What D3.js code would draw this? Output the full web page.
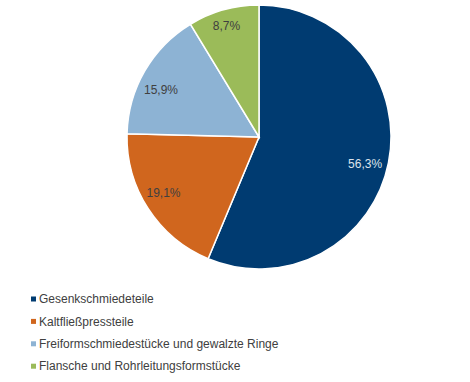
<!DOCTYPE html>
<html>
<head>
<meta charset="utf-8">
<script src="https://cdn.jsdelivr.net/npm/d3@7"></script>
<style>
  html, body { margin: 0; padding: 0; background: #fff; }
  svg { display: block; font-family: "Liberation Sans", Arial, sans-serif; }
</style>
</head>
<body>
<div id="container"></div>
<script>
// data
const categories = [
    'Gesenkschmiedeteile',
    'Kaltfließpressteile',
    'Freiformschmiedestücke und gewalzte Ringe',
    'Flansche und Rohrleitungsformstücke'
]
const shares = [56.3, 19.1, 15.9, 8.7]
const colors = ['#003b71', '#d0661e', '#8db3d4', '#9bbb59']
const labelColors = ['#dbe3ec', '#404040', '#404040', '#404040']

const specs = { width: 470, height: 382, cx: 259, cy: 137, r: 132 }
// label placement inside each slice (share of the slice's sweep, share of radius)
const labelFrac = [0.515, 0.538, 0.427, 0.48]
const labelRad = [0.83, 0.838, 0.825, 0.877]

const svg = d3.select('#container')
    .append('svg').attr('width', specs.width).attr('height', specs.height)

const data = categories.map((c, i) => ({ name: c, value: shares[i], i }))

const pie = d3.pie().sort(null).value(d => d.value)
const arc = d3.arc().innerRadius(0).outerRadius(specs.r)

const g = svg.append('g').attr('transform', `translate(${specs.cx},${specs.cy})`)
const arcs = pie(data)

g.selectAll('path.slice')
    .data(arcs)
    .join('path')
    .attr('class', 'slice')
    .attr('d', arc)
    .attr('fill', d => colors[d.data.i])
    .attr('stroke', '#fff')
    .attr('stroke-width', 1.5)

const labelPos = d => {
    const i = d.data.i
    const a = d.startAngle + (d.endAngle - d.startAngle) * labelFrac[i]
    const rr = specs.r * labelRad[i]
    return [Math.sin(a) * rr, -Math.cos(a) * rr]
}

g.selectAll('text.lbl')
    .data(arcs)
    .join('text')
    .attr('class', 'lbl')
    .attr('transform', d => `translate(${labelPos(d)})`)
    .attr('text-anchor', 'middle')
    .attr('dy', '0.35em')
    .attr('font-size', 12)
    .attr('fill', d => labelColors[d.data.i])
    .text(d => d.data.value.toFixed(1).replace('.', ',') + '%')

// legend
const legend = svg.append('g').attr('transform', 'translate(31,299)')
const item = legend.selectAll('g')
    .data(data)
    .join('g')
    .attr('transform', (d, i) => `translate(0,${i * 22.4})`)
item.append('rect')
    .attr('x', 0).attr('y', -2.5)
    .attr('width', 5).attr('height', 5)
    .attr('fill', d => colors[d.i])
item.append('text')
    .attr('x', 8)
    .attr('dy', '0.35em')
    .attr('font-size', 12)
    .attr('fill', '#404040')
    .text(d => d.name)
</script>
</body>
</html>
